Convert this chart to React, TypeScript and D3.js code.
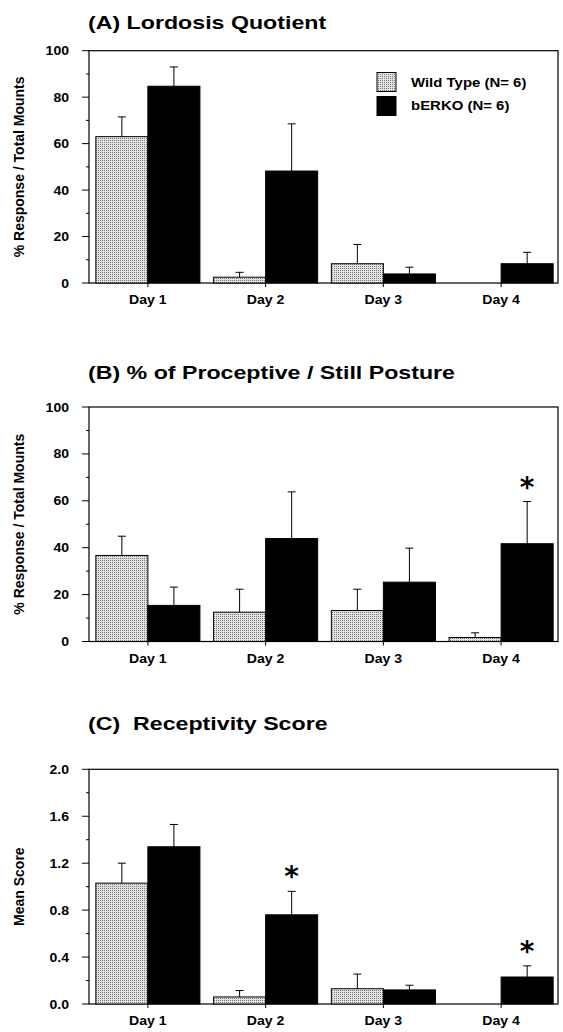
import React from "react";
import * as d3 from "d3";

const days = ["Day 1", "Day 2", "Day 3", "Day 4"];
const groups = ["Wild Type (N= 6)", "bERKO (N= 6)"];

// Panel A: Lordosis Quotient
const lordosisWild = [63, 2.5, 8.3, 0];
const lordosisWildErr = [8.5, 2.1, 8.3, 0];
const lordosisBerko = [84.7, 48.2, 3.9, 8.3];
const lordosisBerkoErr = [8.3, 20.3, 2.9, 4.9];
const lordosisSig = [false, false, false, false];

// Panel B: % of Proceptive / Still Posture
const proceptiveWild = [36.7, 12.5, 13.2, 1.7];
const proceptiveWildErr = [8.2, 9.8, 9.1, 2.0];
const proceptiveBerko = [15.4, 43.9, 25.3, 41.7];
const proceptiveBerkoErr = [7.8, 19.9, 14.5, 18.0];
const proceptiveSig = [false, false, false, true];

// Panel C: Receptivity Score
const receptivityWild = [1.03, 0.06, 0.13, 0];
const receptivityWildErr = [0.17, 0.055, 0.125, 0];
const receptivityBerko = [1.34, 0.76, 0.12, 0.23];
const receptivityBerkoErr = [0.19, 0.2, 0.04, 0.095];
const receptivitySig = [false, true, false, true];

const pctMajor = [0, 20, 40, 60, 80, 100];
const pctMinor = [10, 30, 50, 70, 90];
const scoreMajor = [0, 0.4, 0.8, 1.2, 1.6, 2.0];
const scoreMinor = [0.2, 0.6, 1.0, 1.4, 1.8];

const FONT = "'Liberation Sans', Arial, Helvetica, sans-serif";
const SX = 1.17;

function SText({ x, y, size, anchor = "start", sx = SX, children, pre = false }: any) {
  return (
    <text
      transform={`translate(${x},${y}) scale(${sx},1)`}
      fontFamily={FONT}
      fontWeight="bold"
      fontSize={size}
      textAnchor={anchor}
      fill="#000"
      style={pre ? { whiteSpace: "pre" } : undefined}
    >
      {children}
    </text>
  );
}

const LEFT = 89;
const RIGHT = 558;

function Panel({
  title, titleY, top, bottom, domainMax, major, minor, fmt, yLabel,
  wild, wildErr, berko, berkoErr, sig, legend,
}: any) {
  const y = d3.scaleLinear().domain([0, domainMax]).range([bottom, top]);
  const x = d3.scaleBand<string>().domain(days).range([89, 560]).paddingInner(0.116).paddingOuter(0.058);
  const xs = d3.scaleBand<string>().domain(groups).range([0, x.bandwidth()]).padding(0);
  const bw = xs.bandwidth();
  const capHalf = 4;
  const series = [
    { key: groups[0], vals: wild, errs: wildErr, fill: "url(#stipple)", stroke: "#000" },
    { key: groups[1], vals: berko, errs: berkoErr, fill: "#000", stroke: "#000" },
  ];
  return (
    <g>
      <SText x={88} y={titleY} size={19} sx={1.22} pre>{title}</SText>
      {/* frame */}
      <rect x={LEFT} y={top} width={RIGHT - LEFT} height={bottom - top} fill="none" stroke="#000" strokeWidth={1.2} />
      {/* bars */}
      {series.map((s) =>
        days.map((d, i) => {
          const v = s.vals[i];
          if (v <= 0) return null;
          const bx = (x(d) as number) + (xs(s.key) as number);
          const cx = bx + bw / 2;
          const yTop = y(v);
          const yErr = y(v + s.errs[i]);
          return (
            <g key={s.key + d}>
              <rect x={bx} y={yTop} width={bw} height={bottom - yTop} fill={s.fill} stroke={s.stroke} strokeWidth={1} />
              {s.errs[i] > 0 && (
                <g stroke="#000" strokeWidth={1}>
                  <line x1={cx} x2={cx} y1={yTop} y2={yErr} />
                  <line x1={cx - capHalf} x2={cx + capHalf} y1={yErr} y2={yErr} />
                </g>
              )}
            </g>
          );
        })
      )}
      {/* significance */}
      {days.map((d, i) => {
        if (!sig[i]) return null;
        const cx = (x(d) as number) + (xs(groups[1]) as number) + bw / 2;
        const yErr = y(berko[i] + berkoErr[i]);
        return (
          <text key={"s" + d} x={cx} y={yErr - 5} fontFamily="'DejaVu Sans', sans-serif" fontWeight="bold"
            fontSize={28} textAnchor="middle" fill="#000">*</text>
        );
      })}
      {/* y axis ticks */}
      {major.map((t: number) => (
        <g key={"M" + t}>
          <line x1={LEFT - 7} x2={LEFT} y1={y(t)} y2={y(t)} stroke="#000" strokeWidth={1} />
          <SText x={69} y={y(t) + 4.5} size={12} anchor="end">{fmt(t)}</SText>
        </g>
      ))}
      {minor.map((t: number) => (
        <line key={"m" + t} x1={LEFT - 3} x2={LEFT} y1={y(t)} y2={y(t)} stroke="#000" strokeWidth={1} />
      ))}
      {/* x axis ticks */}
      {days.map((d) => {
        const cx = (x(d) as number) + x.bandwidth() / 2;
        return (
          <g key={"x" + d}>
            <line x1={cx} x2={cx} y1={bottom} y2={bottom + 4} stroke="#000" strokeWidth={1} />
            <SText x={cx} y={bottom + 21} size={12.5} anchor="middle" sx={1.13}>{d}</SText>
          </g>
        );
      })}
      {/* y label */}
      <text
        transform={`translate(24,${(top + bottom) / 2}) rotate(-90) scale(1,1.1)`}
        fontFamily={FONT}
        fontWeight="bold"
        fontSize={14}
        textAnchor="middle"
        fill="#000"
      >
        {yLabel}
      </text>
      {legend && (
        <g>
          {groups.map((g, i) => (
            <g key={g}>
              <rect x={377} y={72.5 + i * 24} width={19} height={19}
                fill={i === 0 ? "url(#stipple)" : "#000"} stroke="#000" strokeWidth={1} />
              <SText x={411} y={86.5 + i * 23.7} size={13} sx={1.15}>{g}</SText>
            </g>
          ))}
        </g>
      )}
    </g>
  );
}

export default function App() {
  const pctFmt = d3.format("d");
  const scoreFmt = d3.format(".1f");
  return (
    <svg width={563} height={1032} style={{ position: "absolute", left: 0, top: 0, background: "#fff" }}>
      <defs>
        <pattern id="stipple" width={2} height={2} patternUnits="userSpaceOnUse">
          <rect width={2} height={2} fill="#e2e2e2" />
          <rect width={1} height={1} fill="#7a7a7a" />
        </pattern>
      </defs>
      <rect width={563} height={1032} fill="#fff" />
      <Panel
        title="(A) Lordosis Quotient" titleY={28.5} top={50.7} bottom={283}
        domainMax={100} major={pctMajor} minor={pctMinor} fmt={pctFmt}
        yLabel="% Response / Total Mounts"
        wild={lordosisWild} wildErr={lordosisWildErr} berko={lordosisBerko} berkoErr={lordosisBerkoErr}
        sig={lordosisSig} legend
      />
      <Panel
        title="(B) % of Proceptive / Still Posture" titleY={379} top={407} bottom={641.5}
        domainMax={100} major={pctMajor} minor={pctMinor} fmt={pctFmt}
        yLabel="% Response / Total Mounts"
        wild={proceptiveWild} wildErr={proceptiveWildErr} berko={proceptiveBerko} berkoErr={proceptiveBerkoErr}
        sig={proceptiveSig}
      />
      <Panel
        title="(C)  Receptivity Score" titleY={729.5} top={769.3} bottom={1004}
        domainMax={2} major={scoreMajor} minor={scoreMinor} fmt={scoreFmt}
        yLabel="Mean Score"
        wild={receptivityWild} wildErr={receptivityWildErr} berko={receptivityBerko} berkoErr={receptivityBerkoErr}
        sig={receptivitySig}
      />
    </svg>
  );
}
